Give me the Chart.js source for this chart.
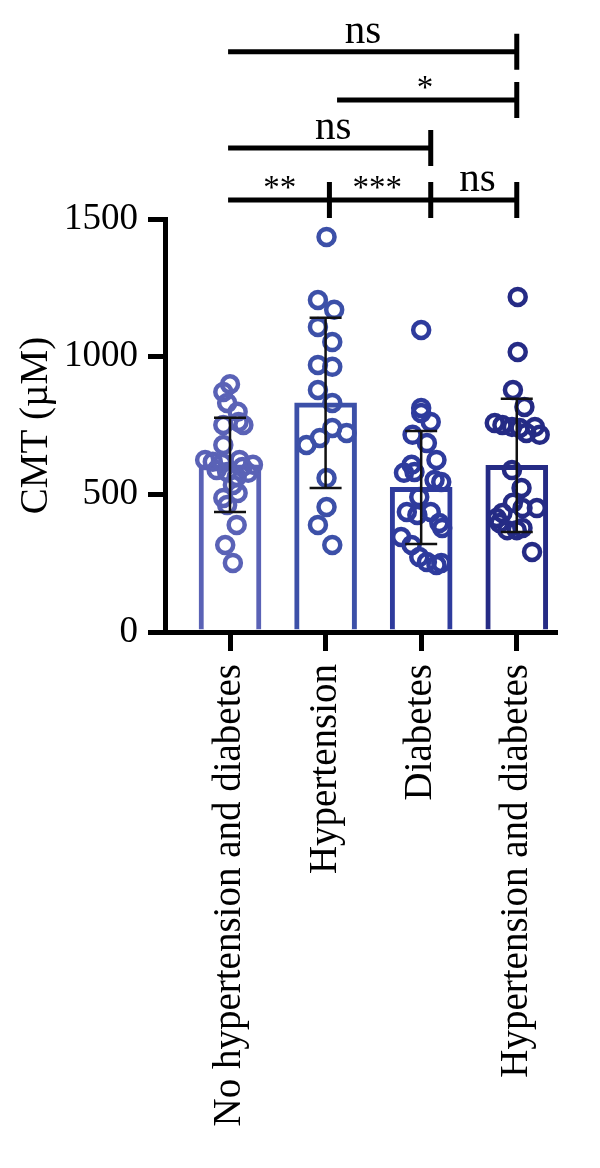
<!DOCTYPE html>
<html><head><meta charset="utf-8">
<script src="https://cdn.jsdelivr.net/npm/chart.js@4/dist/chart.umd.min.js"></script>
<style>html,body{margin:0;padding:0;background:#fff}canvas{display:block}</style>
</head><body>
<canvas id="c" width="600" height="1168"></canvas>
<script>
// ---- data ----
const categories = ['No hypertension and diabetes', 'Hypertension', 'Diabetes', 'Hypertension and diabetes'];
const yTicks = [0, 500, 1000, 1500];
const barMeans = [607, 832, 525, 605];
const barSD = [171, 309, 205, 242];

const valuesNone = [900, 872, 832, 800, 763, 752, 752, 679, 625, 618, 614, 625, 607, 578, 581, 588, 563, 534, 505, 487, 461, 389, 316, 251, 599];
const jitterNone = [0, -0.07, -0.03, 0.08, 0.09, -0.07, 0.14, -0.07, -0.26, -0.18, -0.08, 0.10, 0.24, 0.19, -0.03, -0.14, 0.07, 0.03, 0.08, -0.07, -0.03, 0.07, -0.05, 0.03, 0.13];

const valuesHyp = [1435, 1206, 1170, 1108, 1053, 970, 963, 879, 832, 741, 723, 705, 679, 559, 454, 389, 316];
const jitterHyp = [0.01, -0.08, 0.09, -0.08, 0.07, -0.08, 0.07, -0.08, 0.07, 0.07, 0.22, -0.06, -0.20, 0.01, 0.01, -0.08, 0.07];

const valuesDia = [1097, 814, 795, 763, 716, 686, 625, 607, 578, 581, 552, 545, 490, 436, 425, 436, 396, 378, 345, 316, 272, 254, 243, 251];
const jitterDia = [0, 0, 0, 0.10, -0.09, 0.06, 0.16, -0.10, -0.18, -0.07, 0.14, 0.21, -0.02, -0.15, -0.04, 0.10, 0.19, 0.22, -0.21, -0.10, -0.02, 0.06, 0.16, 0.21];

const valuesBoth = [1217, 1017, 879, 817, 759, 752, 745, 741, 745, 723, 716, 588, 523, 469, 450, 450, 432, 414, 396, 370, 370, 378, 291];
const jitterBoth = [0.01, 0.01, -0.04, 0.08, -0.23, -0.15, -0.05, 0.03, 0.19, 0.10, 0.24, -0.05, 0.05, -0.04, 0.06, 0.21, -0.15, -0.21, -0.18, -0.10, 0, 0.06, 0.16];

const sigLabels = ['ns', '*', 'ns', '**', '***', 'ns'];

// ---- styling / layout ----
const FONT = "'Liberation Serif','Times New Roman',serif";
const colors = ['#5a62b6', '#3c50a8', '#2e3b9d', '#252b85'];

const groups = [[valuesNone, jitterNone], [valuesHyp, jitterHyp], [valuesDia, jitterDia], [valuesBoth, jitterBoth]];

const scatterSets = groups.map(([vals, jit], i) => ({
  type: 'scatter',
  data: vals.map((v, k) => ({x: i + jit[k], y: v})),
  pointRadius: 8,
  pointHoverRadius: 8,
  pointBorderWidth: 4.5,
  borderColor: colors[i],
  backgroundColor: 'rgba(0,0,0,0)',
  order: 1
}));

const barSet = {
  type: 'bar',
  data: barMeans.map((m, i) => ({x: i, y: m})),
  backgroundColor: '#ffffff',
  borderColor: colors,
  borderWidth: 5,
  borderSkipped: 'bottom',
  barThickness: 62,
  order: 5
};

// bracket geometry (annotation layout, in axis units)
const bracketRows = [
  {level: 2107, from: -0.02, to: 3.0, ticks: [3.0]},
  {level: 1932, from: 1.12, to: 3.0, ticks: [3.0]},
  {level: 1758, from: -0.02, to: 2.1, ticks: [2.1]},
  {level: 1569, from: -0.02, to: 3.0, ticks: [1.04, 2.1, 3.0]}
];
const bracketTextPos = [
  {x: 1.39, level: 2107},
  {x: 2.04, level: 1932},
  {x: 1.08, level: 1758},
  {x: 0.52, level: 1569},
  {x: 1.54, level: 1569},
  {x: 2.59, level: 1569}
];

const overlay = {
  id: 'overlay',
  afterDatasetsDraw(chart) {
    const {ctx, scales: {x, y}} = chart;
    ctx.save();
    ctx.strokeStyle = '#111';
    ctx.lineWidth = 2.5;
    barMeans.forEach((m, i) => {
      const px = x.getPixelForValue(i);
      const top = y.getPixelForValue(m + barSD[i]);
      const bot = y.getPixelForValue(m - barSD[i]);
      ctx.beginPath();
      ctx.moveTo(px, top); ctx.lineTo(px, bot);
      ctx.moveTo(px - 16, top); ctx.lineTo(px + 16, top);
      ctx.moveTo(px - 16, bot); ctx.lineTo(px + 16, bot);
      ctx.stroke();
    });
    ctx.restore();
  },
  afterDraw(chart) {
    const {ctx, scales: {x, y}} = chart;
    ctx.save();
    ctx.strokeStyle = '#000';
    ctx.fillStyle = '#000';
    ctx.lineWidth = 5;
    ctx.lineCap = 'butt';
    bracketRows.forEach(r => {
      const py = y.getPixelForValue(r.level);
      ctx.beginPath();
      ctx.moveTo(x.getPixelForValue(r.from), py);
      ctx.lineTo(x.getPixelForValue(r.to) + 2.5, py);
      r.ticks.forEach(t => {
        const tx = x.getPixelForValue(t);
        ctx.moveTo(tx, py - 18);
        ctx.lineTo(tx, py + 18);
      });
      ctx.stroke();
    });
    ctx.textAlign = 'center';
    ctx.textBaseline = 'alphabetic';
    sigLabels.forEach((s, i) => {
      const p = bracketTextPos[i];
      const px = x.getPixelForValue(p.x);
      const py = y.getPixelForValue(p.level);
      if (s === 'ns') {
        ctx.font = '41px ' + FONT;
        ctx.fillText(s, px, py - 9);
      } else {
        ctx.font = '33px ' + FONT;
        const m = ctx.measureText(s);
        const center = py - 17.5;
        const base = center + (m.actualBoundingBoxAscent - m.actualBoundingBoxDescent) / 2;
        ctx.fillText(s, px, base);
      }
    });
    ctx.restore();
  }
};

new Chart(document.getElementById('c'), {
  type: 'bar',
  data: {datasets: [...scatterSets, barSet]},
  plugins: [overlay],
  options: {
    responsive: false,
    animation: false,
    events: [],
    layout: {padding: {top: 219, right: 45, left: 0, bottom: 0}},
    plugins: {legend: {display: false}, tooltip: {enabled: false}},
    scales: {
      x: {
        type: 'linear',
        min: -0.68,
        max: 3.4,
        offset: false,
        afterBuildTicks: s => { s.ticks = categories.map((c, i) => ({value: i})); },
        afterFit: s => { s.height = 536; },
        ticks: {
          autoSkip: false,
          minRotation: 90,
          maxRotation: 90,
          padding: 13,
          color: '#000',
          font: {family: FONT, size: 39},
          callback: v => categories[v] ?? ''
        },
        grid: {offset: false, drawOnChartArea: false, drawTicks: true, tickLength: 19, lineWidth: 5, color: '#000'},
        border: {display: true, width: 5, color: '#000'}
      },
      y: {
        type: 'linear',
        min: 0,
        max: 1500,
        afterBuildTicks: s => { s.ticks = yTicks.map(v => ({value: v})); },
        afterFit: s => { s.width = 165; },
        ticks: {
          padding: 10,
          color: '#000',
          font: {family: FONT, size: 37},
          callback: v => String(v)
        },
        title: {
          display: true,
          text: 'CMT (µM)',
          color: '#000',
          font: {family: FONT, size: 39},
          padding: {top: 13, bottom: 0}
        },
        grid: {drawOnChartArea: false, drawTicks: true, tickLength: 17, lineWidth: 5, color: '#000'},
        border: {display: true, width: 5, color: '#000'}
      }
    }
  }
});
</script>
</body></html>
